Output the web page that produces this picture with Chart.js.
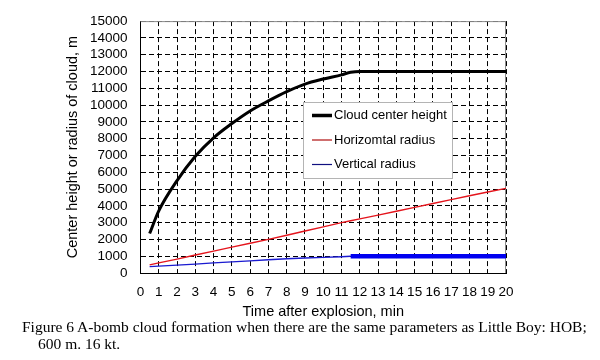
<!DOCTYPE html>
<html><head><meta charset="utf-8">
<script src="https://cdn.jsdelivr.net/npm/chart.js@4"></script>
<style>
html,body{margin:0;padding:0;background:#fff;}
#wrap{position:relative;width:600px;height:360px;overflow:hidden;}
canvas{position:absolute;left:0;top:0;}
.cap{position:absolute;font-family:"Liberation Serif","Times New Roman",serif;font-size:15.5px;color:#000;white-space:nowrap;line-height:17px;}
</style></head><body>
<div id="wrap"><canvas id="c" width="600" height="360"></canvas>
<div class="cap" style="left:22px;top:318px">Figure 6 A-bomb cloud formation when there are the same parameters as Little Boy: HOB;</div>
<div class="cap" style="left:38px;top:335px">600 m. 16 kt.</div>
</div>
<script>
// ---- data ----
const minutes            = [0.5, 1, 2, 3, 4, 5, 6, 7, 8, 9, 10, 11, 11.5, 12, 13, 14, 15, 16, 17, 18, 19, 20];
const cloudCenterHeight  = [2350, 3700, 5500, 6950, 8050, 8900, 9650, 10250, 10800, 11250, 11550, 11800, 11950, 12000, 12000, 12000, 12000, 12000, 12000, 12000, 12000, 12000];
const horizontalRadius   = [480, 600, 830, 1070, 1300, 1540, 1770, 2000, 2250, 2500, 2750, 3000, 3110, 3220, 3450, 3680, 3910, 4140, 4370, 4600, 4820, 5040];
const verticalRadius     = [380, 410, 470, 530, 600, 660, 720, 790, 850, 890, 930, 970, 1000, 1000, 1000, 1000, 1000, 1000, 1000, 1000, 1000, 1000];
const seriesLabels       = ['Cloud center height', 'Horizomtal radius', 'Vertical radius'];
const xTitle = 'Time after explosion, min';
const yTitle = 'Center height or radius of cloud, m';

const pts = arr => minutes.map((m, i) => ({x: m, y: arr[i]}));

const framePlugin = {
  id: 'frame',
  beforeDatasetsDraw(chart) {
    const {ctx, chartArea: a} = chart;
    ctx.save();
    ctx.strokeStyle = '#8c8c8c';
    ctx.lineWidth = 1;
    ctx.beginPath();
    ctx.moveTo(a.left, a.top + 0.5); ctx.lineTo(a.right, a.top + 0.5);
    ctx.moveTo(a.right - 0.5, a.top); ctx.lineTo(a.right - 0.5, a.bottom);
    ctx.stroke();
    ctx.restore();
  }
};

const legendPlugin = {
  id: 'boxLegend',
  afterDatasetsDraw(chart) {
    const {ctx, chartArea: a} = chart;
    const x = Math.round(a.left + 162), y = Math.round(a.top + 81), w = 149, h = 76;
    ctx.save();
    ctx.fillStyle = '#fff';
    ctx.fillRect(x, y, w, h);
    ctx.strokeStyle = '#b4b4b4';
    ctx.lineWidth = 1;
    ctx.strokeRect(x + 0.5, y + 0.5, w, h);
    ctx.font = '13px "Liberation Sans", Arial, sans-serif';
    ctx.textBaseline = 'middle';
    chart.data.datasets.forEach((ds, i) => {
      const ry = y + 13.5 + i * 24.5;
      ctx.strokeStyle = ds.legendColor;
      ctx.lineWidth = ds.legendWidth;
      ctx.beginPath();
      ctx.moveTo(x + 9, ry); ctx.lineTo(x + 29, ry);
      ctx.stroke();
      ctx.fillStyle = '#000';
      ctx.fillText(ds.label, x + 31, ry);
    });
    ctx.restore();
  }
};

const tickFont = {family: '"Liberation Sans", Arial, sans-serif', size: 13.5};
const titleFont = {family: '"Liberation Sans", Arial, sans-serif', size: 14.5};

new Chart(document.getElementById('c'), {
  type: 'line',
  data: {
    datasets: [
      {label: seriesLabels[0], data: pts(cloudCenterHeight), borderColor: '#000', borderWidth: 3,
       legendColor: '#000', legendWidth: 3.5, cubicInterpolationMode: 'monotone', pointRadius: 0},
      {label: seriesLabels[1], data: pts(horizontalRadius), borderColor: '#e4141c', borderWidth: 1.4,
       legendColor: '#b01010', legendWidth: 1.2, pointRadius: 0},
      {label: seriesLabels[2], data: pts(verticalRadius), borderColor: '#1a1ad0', borderWidth: 1.4,
       legendColor: '#101080', legendWidth: 1.2, pointRadius: 0,
       segment: {
         borderWidth: ctx => ctx.p0.parsed.x >= 11.5 ? 4.5 : 1.4,
         borderColor: ctx => ctx.p0.parsed.x >= 11.5 ? '#0000f0' : '#1a1ad0'
       }}
    ]
  },
  options: {
    responsive: false,
    devicePixelRatio: 1,
    animation: false,
    layout: {padding: {left: 60, right: 94, top: 21, bottom: 37}},
    plugins: {legend: {display: false}, tooltip: {enabled: false}},
    scales: {
      x: {
        type: 'linear', min: 0, max: 20,
        ticks: {stepSize: 1, color: '#000', font: tickFont, padding: 11, maxRotation: 0, autoSkip: false,
                callback: v => String(v)},
        grid: {color: '#000', lineWidth: 1, drawTicks: false},
        border: {display: true, color: '#000', width: 1, dash: [5, 3]},
        title: {display: true, text: xTitle, color: '#000', font: titleFont, padding: {top: 0, bottom: 2}},
        afterFit: s => { s.height = 50; }
      },
      y: {
        type: 'linear', min: 0, max: 15000,
        ticks: {stepSize: 1000, color: '#000', font: tickFont, padding: 13, autoSkip: false,
                callback: v => String(v)},
        grid: {color: '#000', lineWidth: 1, drawTicks: false},
        border: {display: true, color: '#000', width: 1, dash: [5, 3]},
        title: {display: true, text: yTitle, color: '#000', font: titleFont, padding: {top: 4, bottom: 0}},
        afterFit: s => { s.width = 80.5; }
      }
    }
  },
  plugins: [framePlugin, legendPlugin]
});
</script>
</body></html>
